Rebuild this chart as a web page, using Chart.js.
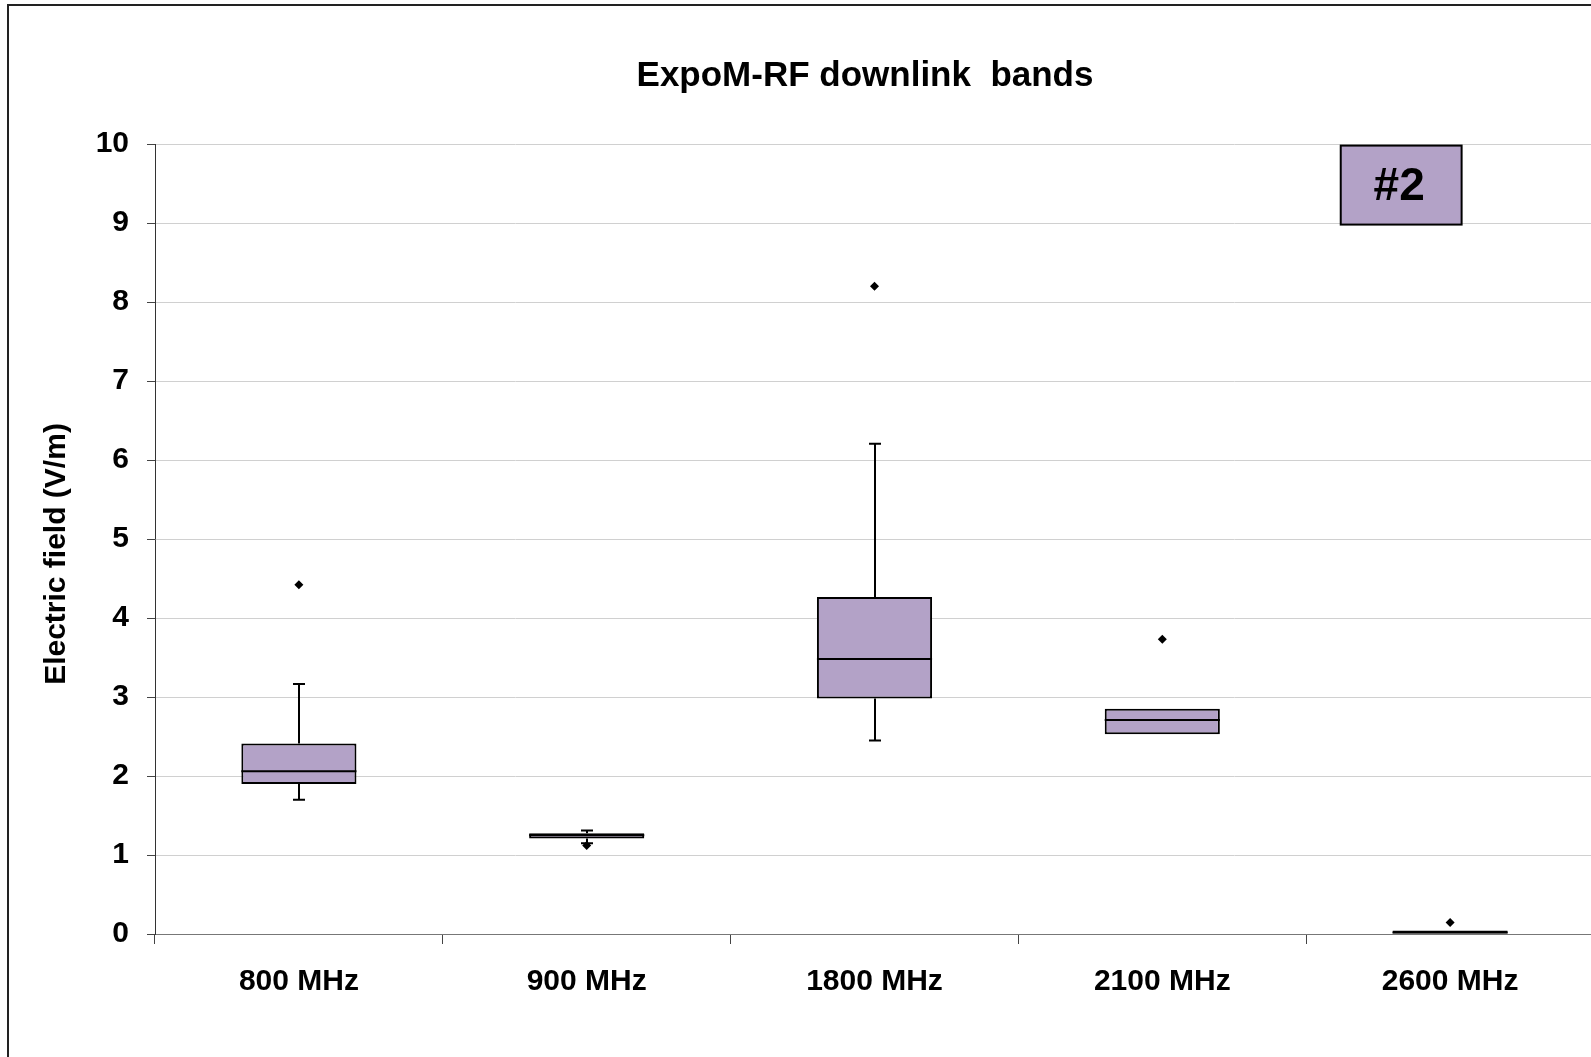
<!DOCTYPE html>
<html>
<head>
<meta charset="utf-8">
<title>ExpoM-RF downlink bands</title>
<script src="https://cdn.jsdelivr.net/npm/chart.js@4.4.0/dist/chart.umd.min.js"></script>
<style>
    html, body { margin: 0; padding: 0; background: #fff; overflow: hidden; }
    #chart1 { display: block; }
</style>
</head>
<body>
<canvas id="chart1" width="1600" height="1057"></canvas>
<script>
// box plot values (V/m)
const bands       = ['800 MHz', '900 MHz', '1800 MHz', '2100 MHz', '2600 MHz']
const whiskerLow  = [1.70, 1.15, 2.45, 2.53, 0.00]
const quartile1   = [1.90, 1.21, 2.98, 2.53, 0.00]
const medians     = [2.06, 1.25, 3.48, 2.71, 0.02]
const quartile3   = [2.41, 1.275, 4.265, 2.85, 0.045]
const whiskerHigh = [3.165, 1.31, 6.205, 2.85, 0.045]
const outliers    = [4.42, 1.12, 8.20, 3.73, 0.145]

const chartTitle = 'ExpoM-RF downlink  bands'
const yTitle = 'Electric field (V/m)'
const tagText = '#2'

const purple = '#B3A2C7'
const fontFamily = '"Liberation Sans", Arial, sans-serif'

// whiskers, medians, titles and the "#2" tag
const boxExtras = {
    id: 'boxExtras',
    afterDatasetsDraw(chart) {
        const ctx = chart.ctx
        const y = chart.scales.y
        const bars = chart.getDatasetMeta(0).data
        ctx.save()
        ctx.strokeStyle = '#000'
        ctx.lineWidth = 2
        bars.forEach((bar, i) => {
            const cx = Math.round(bar.x)
            const half = bar.width / 2
            const yMed = y.getPixelForValue(medians[i])
            const yQ1 = y.getPixelForValue(quartile1[i])
            const yQ3 = y.getPixelForValue(quartile3[i])
            const yLo = y.getPixelForValue(whiskerLow[i])
            const yHi = y.getPixelForValue(whiskerHigh[i])
            ctx.beginPath()
            ctx.moveTo(bar.x - half, yMed)
            ctx.lineTo(bar.x + half, yMed)
            if (yHi < yQ3 - 1) {
                ctx.moveTo(cx, yQ3)
                ctx.lineTo(cx, yHi)
                ctx.moveTo(cx - 6, yHi)
                ctx.lineTo(cx + 6, yHi)
            }
            if (yLo > yQ1 + 1) {
                ctx.moveTo(cx, yQ1)
                ctx.lineTo(cx, yLo)
                ctx.moveTo(cx - 6, yLo)
                ctx.lineTo(cx + 6, yLo)
            }
            ctx.stroke()
        })
        ctx.restore()
    },
    afterDraw(chart) {
        const ctx = chart.ctx
        const x = chart.scales.x
        const y = chart.scales.y
        ctx.save()

        // frame of the picture
        ctx.strokeStyle = '#222'
        ctx.lineWidth = 2
        ctx.beginPath()
        ctx.moveTo(8, chart.height)
        ctx.lineTo(8, 5)
        ctx.lineTo(chart.width, 5)
        ctx.stroke()

        ctx.fillStyle = '#000'
        ctx.textAlign = 'center'
        ctx.textBaseline = 'middle'
        ctx.font = 'bold 35px ' + fontFamily
        ctx.fillText(chartTitle, 865, 76)

        ctx.save()
        ctx.translate(57, 554)
        ctx.rotate(-Math.PI / 2)
        ctx.font = 'bold 30px ' + fontFamily
        ctx.fillText(yTitle, 0, 0)
        ctx.restore()

        // tag box in the top right corner
        const left = x.getPixelForValue(3.62)
        const right = x.getPixelForValue(4.04)
        const top = y.getPixelForValue(9.98)
        const bottom = y.getPixelForValue(8.98)
        ctx.fillStyle = purple
        ctx.fillRect(left, top, right - left, bottom - top)
        ctx.strokeStyle = '#000'
        ctx.lineWidth = 2
        ctx.strokeRect(left, top, right - left, bottom - top)
        ctx.fillStyle = '#000'
        ctx.font = 'bold 46px ' + fontFamily
        ctx.fillText(tagText, (left + right) / 2 - 2, (top + bottom) / 2 + 2)

        ctx.restore()
    }
}

const boxData = quartile1.map((q1, i) => [q1, quartile3[i]])

const ctx = document.querySelector('#chart1').getContext('2d')
const chart1 = new Chart(ctx, {
    type: 'bar',
    data: {
        labels: bands,
        datasets: [{
            label: 'Box',
            data: boxData,
            backgroundColor: purple,
            borderColor: '#000',
            borderWidth: 2,
            borderSkipped: false,
            barPercentage: 0.4,
            categoryPercentage: 1.0,
            order: 2
        }, {
            type: 'line',
            label: 'Outliers',
            data: outliers,
            showLine: false,
            pointStyle: 'rectRot',
            pointRadius: 4.5,
            pointBackgroundColor: '#000',
            pointBorderColor: '#000',
            pointBorderWidth: 0,
            order: 1
        }]
    },
    options: {
        responsive: false,
        animation: false,
        layout: {
            padding: { top: 144, right: 6, left: 0, bottom: 0 }
        },
        plugins: {
            legend: { display: false },
            tooltip: { enabled: false },
            title: { display: false }
        },
        scales: {
            x: {
                grid: {
                    offset: true,
                    drawOnChartArea: false,
                    drawTicks: true,
                    tickLength: 10,
                    tickColor: '#444'
                },
                border: { color: '#777', width: 1 },
                ticks: {
                    color: '#000',
                    padding: 20,
                    font: { family: fontFamily, size: 30, weight: 'bold' }
                },
                afterFit(scale) { scale.height = 123 }
            },
            y: {
                min: 0,
                max: 10,
                ticks: {
                    stepSize: 1,
                    color: '#000',
                    padding: 18,
                    font: { family: fontFamily, size: 30, weight: 'bold' }
                },
                grid: {
                    color: '#D0D0D0',
                    lineWidth: 1,
                    tickLength: 8,
                    tickColor: '#444'
                },
                border: { color: '#333', width: 1 },
                afterFit(scale) { scale.width = 155 }
            }
        }
    },
    plugins: [boxExtras]
})
</script>
</body>
</html>
